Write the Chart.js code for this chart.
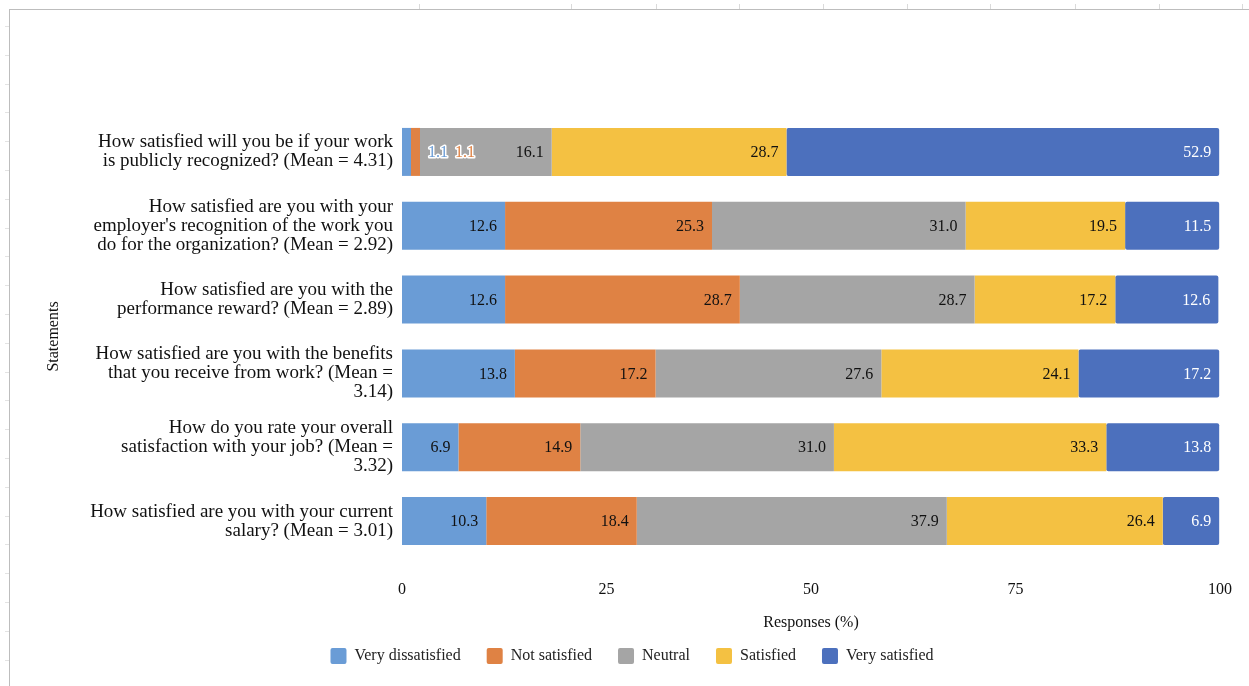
<!DOCTYPE html>
<html>
<head>
<meta charset="utf-8">
<script src="https://cdn.jsdelivr.net/npm/chart.js@4"></script>
<style>
  html, body { margin: 0; padding: 0; background: #fff; }
  body { width: 1249px; height: 686px; position: relative; overflow: hidden; }
  #sheet { position: absolute; left: 9px; top: 9px; width: 1240px; height: 677px;
           border-left: 1px solid #bdbdbd; border-top: 1px solid #bdbdbd; }
  #wrap { position: absolute; left: 10px; top: 10px; width: 1239px; height: 676px; }
  .rowTick { position: absolute; left: 5px; width: 4px; height: 1px; background: #e3e3e3; }
  .colTick { position: absolute; top: 4px; width: 1px; height: 5px; background: #dadada; }
</style>
</head>
<body>
<div id="sheet"></div>
<div id="wrap"><canvas id="surveyChart"></canvas></div>
<script>
// survey statements (already wrapped the way they are printed)
const categories = [
  ['How satisfied will you be if your work', 'is publicly recognized? (Mean = 4.31)'],
  ['How satisfied are you with your', "employer's recognition of the work you", 'do for the organization? (Mean = 2.92)'],
  ['How satisfied are you with the', 'performance reward? (Mean = 2.89)'],
  ['How satisfied are you with the benefits', 'that you receive from work? (Mean =', '3.14)'],
  ['How do you rate your overall', 'satisfaction with your job? (Mean =', '3.32)'],
  ['How satisfied are you with your current', 'salary? (Mean = 3.01)']
];

const seriesNames = ['Very dissatisfied', 'Not satisfied', 'Neutral', 'Satisfied', 'Very satisfied'];
const veryDissatisfied = [1.1, 12.6, 12.6, 13.8, 6.9, 10.3];
const notSatisfied     = [1.1, 25.3, 28.7, 17.2, 14.9, 18.4];
const neutral          = [16.1, 31.0, 28.7, 27.6, 31.0, 37.9];
const satisfied        = [28.7, 19.5, 17.2, 24.1, 33.3, 26.4];
const verySatisfied    = [52.9, 11.5, 12.6, 17.2, 13.8, 6.9];
const xTicks = [0, 25, 50, 75, 100];

const colors = ['#6a9cd6', '#df8244', '#a5a5a5', '#f4c142', '#4c70bd'];
const labelColors = ['#111', '#111', '#111', '#111', '#fff'];
const serif = "'Liberation Serif', 'Times New Roman', serif";

// spreadsheet gutter marks around the embedded chart
for (let y = 26; y < 686; y += 28.8) {
  const d = document.createElement('div');
  d.className = 'rowTick';
  d.style.top = Math.round(y) + 'px';
  if (Math.round(y) === 286 || Math.round(y) === 315) d.style.background = '#4a86e8';
  document.body.appendChild(d);
}
[419, 571, 656, 739, 823, 907, 990, 1075, 1159, 1242].forEach(x => {
  const d = document.createElement('div');
  d.className = 'colTick';
  d.style.left = x + 'px';
  document.body.appendChild(d);
});

// value labels inside each segment; narrow segments get an outlined label beside the bar
const valueLabels = {
  id: 'valueLabels',
  afterDatasetsDraw(chart) {
    const ctx = chart.ctx;
    ctx.save();
    ctx.font = '16px ' + serif;
    ctx.textBaseline = 'middle';
    const rows = chart.data.labels.length;
    for (let r = 0; r < rows; r++) {
      let cursor = null;
      const small = [];
      chart.data.datasets.forEach((ds, i) => {
        const bar = chart.getDatasetMeta(i).data[r];
        const txt = ds.data[r].toFixed(1);
        const w = ctx.measureText(txt).width;
        if (bar.x - bar.base < w + 14) {
          small.push({ txt, w, i, y: bar.y });
          cursor = bar.x;
        } else {
          ctx.textAlign = 'right';
          ctx.fillStyle = labelColors[i];
          ctx.fillText(txt, bar.x - 8, bar.y + 1);
        }
      });
      if (small.length) {
        let x = cursor + 8;
        ctx.textAlign = 'left';
        ctx.lineJoin = 'round';
        small.forEach(s => {
          ctx.lineWidth = 3;
          ctx.strokeStyle = '#fff';
          ctx.strokeText(s.txt, x, s.y + 1);
          ctx.fillStyle = colors[s.i];
          ctx.fillText(s.txt, x, s.y + 1);
          x += s.w + 7;
        });
      }
    }
    ctx.restore();
  }
};

const seriesData = [veryDissatisfied, notSatisfied, neutral, satisfied, verySatisfied];

new Chart(document.getElementById('surveyChart'), {
  type: 'bar',
  data: {
    labels: categories,
    datasets: seriesNames.map((name, i) => ({
      label: name,
      data: seriesData[i],
      backgroundColor: colors[i],
      borderWidth: 0,
      borderRadius: 2,
      borderSkipped: false,
      barPercentage: 0.65,
      categoryPercentage: 1
    }))
  },
  options: {
    indexAxis: 'y',
    responsive: true,
    maintainAspectRatio: false,
    animation: false,
    layout: { padding: { top: 105, right: 29, left: 34, bottom: 12 } },
    scales: {
      x: {
        stacked: true,
        min: 0,
        max: 100,
        afterBuildTicks: s => { s.ticks = xTicks.map(v => ({ value: v })); },
        afterFit: s => { s.height = 64; s.paddingLeft = 0; s.paddingRight = 0; },
        grid: { display: false, drawTicks: false },
        border: { display: false },
        ticks: { padding: 22, color: '#111', font: { family: serif, size: 16 } },
        title: { display: true, text: 'Responses (%)', color: '#111',
                 font: { family: serif, size: 16 }, padding: { top: 0, bottom: -10 } }
      },
      y: {
        stacked: true,
        afterFit: s => { s.width = 358; },
        grid: { display: false, drawTicks: false },
        border: { display: false },
        ticks: { padding: 9, color: '#111', font: { family: serif, size: 19, lineHeight: 1.0 } },
        title: { display: true, text: 'Statements', color: '#111',
                 font: { family: serif, size: 16 }, padding: { top: 0, bottom: 0 } }
      }
    },
    plugins: {
      legend: {
        position: 'bottom',
        labels: {
          boxWidth: 16,
          boxHeight: 16,
          useBorderRadius: true,
          borderRadius: 2,
          padding: 26,
          color: '#222',
          font: { family: serif, size: 16 }
        }
      },
      tooltip: { enabled: false }
    }
  },
  plugins: [valueLabels]
});
</script>
</body>
</html>
